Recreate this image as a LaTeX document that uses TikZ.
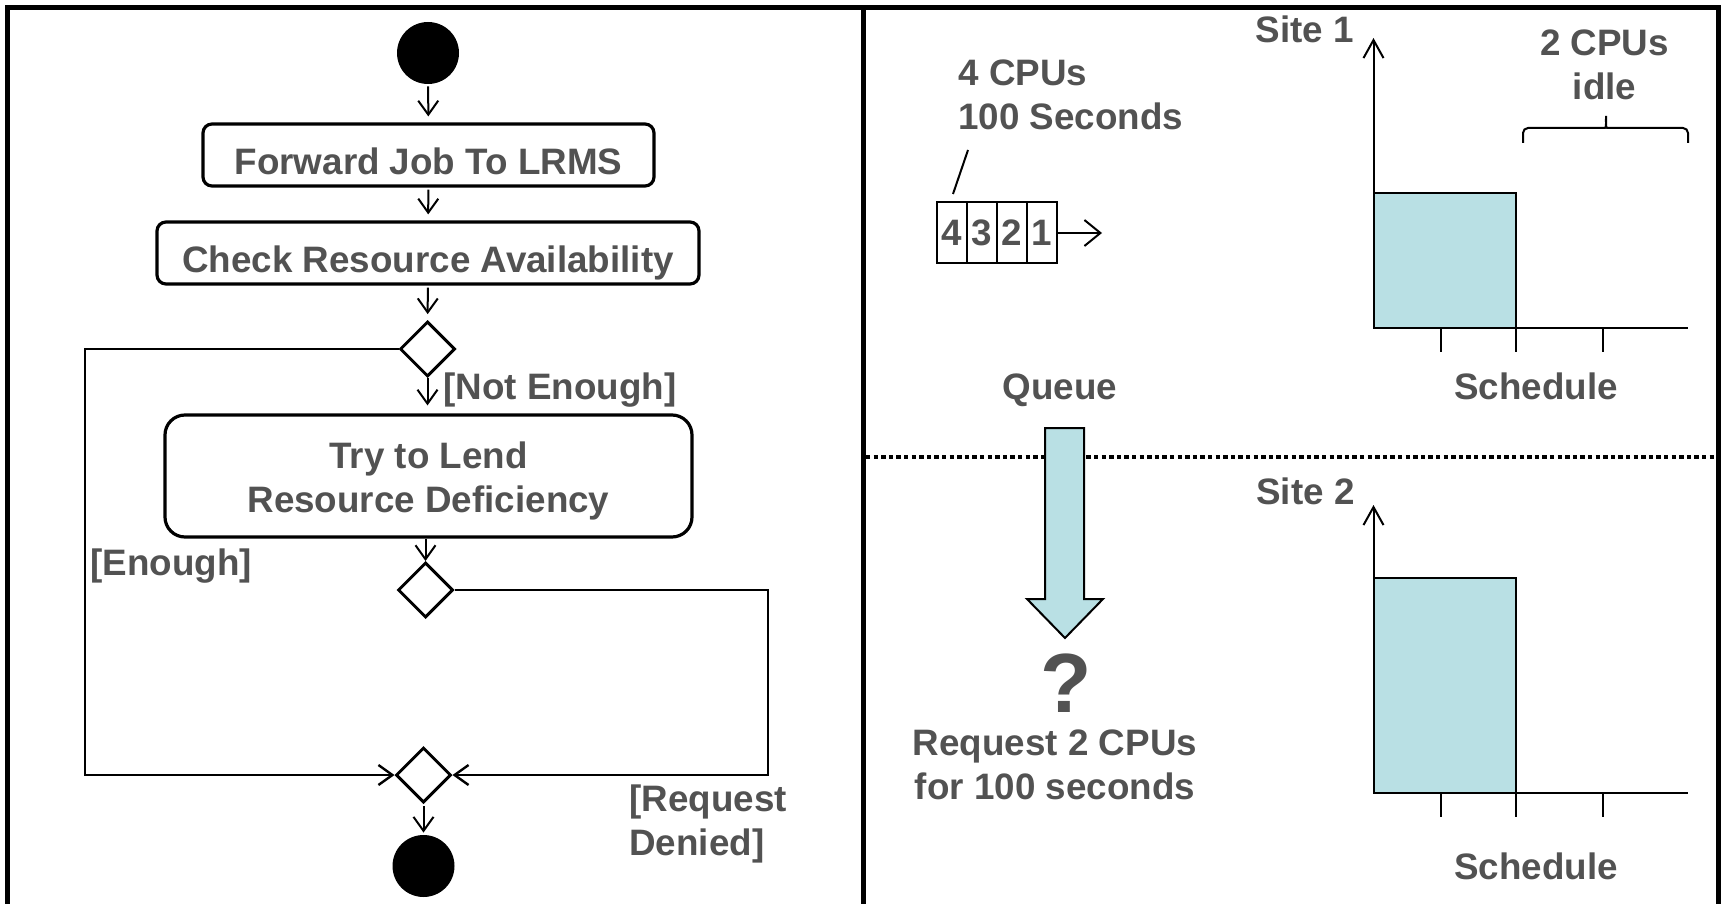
\documentclass[tikz,border=0pt]{standalone}
\usepackage{fontspec}
\setmainfont{Liberation Sans}
\usetikzlibrary{arrows.meta,positioning,shapes.geometric}
\definecolor{txtgray}{RGB}{82,82,82}
\definecolor{jobblue}{RGB}{185,224,228}
\tikzset{
        lbl/.style={inner sep=0pt, text=txtgray, font=\bfseries\fontsize{18.4}{22}\selectfont},
        % Activity boxes
        activity/.style={lbl, rectangle, draw=black, rounded corners=4.5pt, line width=1.6pt, align=center},
        % Single line activities, text sits a little low
        oneline/.style={activity, text height=19.6pt, text depth=0pt, minimum height=31pt},
        % Decision and merge nodes
        decision/.style={diamond, draw=black, line width=1.5pt, inner sep=0pt, minimum width=27.5pt, minimum height=27.5pt},
        % Initial and final nodes
        terminal/.style={circle, fill=black, inner sep=0pt, minimum size=31pt},
        % Control flow
        flow/.style={->, line width=1pt, shorten <=1pt, shorten >=3pt},
        % Queue cells
        qcell/.style={lbl, draw=black, line width=1pt, minimum width=15pt, minimum height=30.5pt},
        % Schedule charts
        chartline/.style={line width=1pt},
        jobbar/.style={fill=jobblue, draw=black, line width=1pt}
}
\begin{document}
\begin{tikzpicture}[
            x=0.5pt, y=-0.5pt,
            >={Straight Barb[length=7pt,width=10pt]}
        ]
            \useasboundingbox (0,0) rectangle (1721,904);
            \draw[line width=2.5pt] (7.5,910) -- (7.5,7.5) -- (1718.5,7.5) -- (1718.5,910);
            \draw[line width=2.5pt] (863.5,7.5) -- (863.5,910);

            % activity diagram
            \node[terminal] (start) at (428,53) {};
            \node[oneline, minimum width=225.5pt] (fwd) at (428.5,155) {Forward Job To LRMS};
            \node[oneline, minimum width=271pt] (check) at (428,253) {Check Resource Availability};
            \node[decision] (enough) at (427.5,349) {};
            \node[activity, rounded corners=10pt, minimum width=263.5pt, minimum height=61pt] (lend) at (428.5,476) {\rule{0pt}{18.7pt}Try to Lend\\Resource Deficiency};
            \node[decision] (granted) at (425.5,590) {};
            \node[decision] (merge) at (423.5,775) {};
            \node[terminal] (stop) at (423.5,866) {};

            \draw[flow] (start) -- (fwd);
            \draw[flow] (fwd) -- (check);
            \draw[flow] (check) -- (enough);
            \draw[flow, shorten <=0pt, shorten >=4pt] (enough.south) -- (enough.south |- lend.north);
            \draw[flow, shorten <=0pt, shorten >=0pt] (lend.south -| granted) -- (granted.north);
            \draw[flow, shorten >=1pt] (merge) -- (stop);

            \coordinate (loopL) at (85,775);
            \coordinate (loopR) at (768,775);
            \draw[flow, line width=1.2pt, shorten <=0pt, shorten >=0pt] (enough.west) -| (loopL) -- (merge.west);
            \draw[flow, line width=1.2pt, shorten <=0pt, shorten >=0pt] (granted.east) -| (loopR) -- (merge.east);

            \node[lbl, anchor=west] (notenough) at (443,390) {[Not Enough]};
            \node[lbl, anchor=west] (isenough) at (90,566) {[Enough]};
            \node[lbl, anchor=west, align=left] (denied) at (629,824) {[Request\\Denied]};

            % queue
            \node[lbl, anchor=west, align=left] (jobinfo) at (958,95) {4 CPUs\\100 Seconds};
            \coordinate (tag1) at (968,150);
            \coordinate (tag2) at (953,194);
            \draw[line width=1pt] (tag1) -- (tag2);
            \foreach \d [count=\i] in {4,3,2,1}
                \node[qcell] (q\i) at ({922+30*\i},233) {\d};
            \coordinate (qout) at (1102,233);
            \draw[->, line width=1pt, >={Straight Barb[length=8pt,width=13pt]}] (q4.east) -- (qout);
            \node[lbl] (queue) at (1060,390.5) {Queue};

            \draw[line width=2pt, dash pattern=on 2.2pt off 1.6pt] (866,457) -- (1716,457);

            \draw[jobbar] (1045,428) -- (1084,428) -- (1084,599) -- (1103,599) -- (1065,638) -- (1027,599) -- (1045,599) -- cycle;
            \node[lbl, font=\bfseries\fontsize{42}{50}\selectfont] (ask) at (1066,683) {?};
            \node[lbl, align=center] (request) at (1055,765) {Request 2 CPUs\\for 100 seconds};

            % site 1
            \node[lbl] (site1) at (1305,29) {Site 1};
            \draw[jobbar] (1373.5,193) rectangle (1516,328);
            \draw[chartline, ->, >={Straight Barb[length=9pt,width=10pt]}] (1373.5,328) -- (1373.5,38);
            \draw[chartline, line width=1.3pt] (1373.5,328) -- (1688,328);
            \foreach \t in {1441,1516,1602.5}
                \draw[chartline] (\t,328) -- (\t,352);
            \draw[chartline, rounded corners=2.5pt] (1523,143) -- (1523,128) -- (1600,128) to[out=0,in=-90] (1606,113) to[out=-90,in=180] (1612,128) -- (1688,128) -- (1688,143);
            \node[lbl, align=center] (idle) at (1604.5,65) {2 CPUs\\idle};
            \node[lbl] (sched1) at (1536,386) {Schedule};

            % site 2
            \node[lbl] (site2) at (1305.5,491.5) {Site 2};
            \draw[jobbar] (1373.5,578) rectangle (1516,793);
            \draw[chartline, ->, >={Straight Barb[length=9pt,width=10pt]}] (1373.5,793) -- (1373.5,505);
            \draw[chartline, line width=1.3pt] (1373.5,793) -- (1688,793);
            \foreach \t in {1441,1516,1602.5}
                \draw[chartline] (\t,793) -- (\t,817);
            \node[lbl] (sched2) at (1536,866) {Schedule};
        \end{tikzpicture}
\end{document}
